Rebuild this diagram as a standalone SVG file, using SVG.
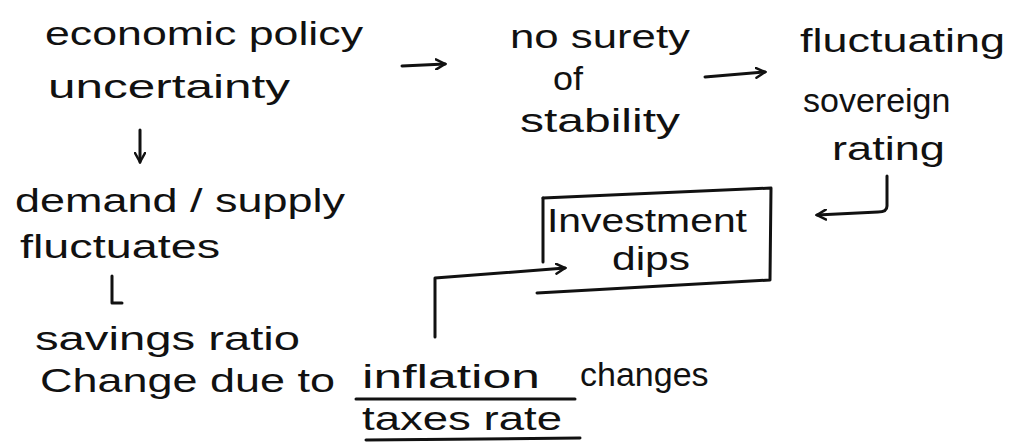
<svg xmlns="http://www.w3.org/2000/svg" width="1013" height="445" viewBox="0 0 1013 445">
<defs>
<style>
text{font-family:"Liberation Sans","DejaVu Sans",sans-serif;font-size:34px;fill:#111;}
.ln{fill:none;stroke:#111;stroke-width:3;stroke-linecap:round;stroke-linejoin:round;}
</style>
<marker id="ah" viewBox="0 0 12 12" refX="10" refY="6" markerWidth="12" markerHeight="12" markerUnits="userSpaceOnUse" orient="auto">
<path d="M1,1 L10,6 L1,11" fill="none" stroke="#111" stroke-width="2.5" stroke-linecap="round"/>
</marker>
</defs>
<rect width="1013" height="445" fill="#fff"/>
<g id="n-epu">
<text x="45" y="45" textLength="318" lengthAdjust="spacingAndGlyphs">economic policy</text>
<text x="48" y="98" textLength="242" lengthAdjust="spacingAndGlyphs">uncertainty</text>
</g>
<g id="n-surety">
<text x="510" y="48" textLength="180" lengthAdjust="spacingAndGlyphs">no surety</text>
<text x="553" y="90" textLength="30" lengthAdjust="spacingAndGlyphs">of</text>
<text x="520" y="132" textLength="160" lengthAdjust="spacingAndGlyphs">stability</text>
</g>
<g id="n-rating">
<text x="800" y="52" textLength="205" lengthAdjust="spacingAndGlyphs">fluctuating</text>
<text x="803" y="112">sovereign</text>
<text x="832" y="160" textLength="113" lengthAdjust="spacingAndGlyphs">rating</text>
</g>
<g id="n-invest">
<path class="ln" d="M543,198 L771,188 L770,280 L537,293"/>
<path class="ln" d="M543,198 L543,262"/>
<text x="547" y="232" textLength="200" lengthAdjust="spacingAndGlyphs">Investment</text>
<text x="612" y="270" textLength="78" lengthAdjust="spacingAndGlyphs">dips</text>
</g>
<g id="n-demand">
<text x="15" y="212" textLength="330" lengthAdjust="spacingAndGlyphs">demand / supply</text>
<text x="20" y="258" textLength="200" lengthAdjust="spacingAndGlyphs">fluctuates</text>
</g>
<g id="n-savings">
<text x="35" y="350" textLength="265" lengthAdjust="spacingAndGlyphs">savings ratio</text>
<text x="40" y="392" textLength="295" lengthAdjust="spacingAndGlyphs">Change due to</text>
<text x="362" y="388" textLength="178" lengthAdjust="spacingAndGlyphs">inflation</text>
<text x="580" y="386">changes</text>
<path class="ln" d="M356,399 L575,399"/>
<text x="362" y="430" textLength="200" lengthAdjust="spacingAndGlyphs">taxes rate</text>
<path class="ln" d="M366,440 L580,438"/>
</g>
<g id="connectors">
<path class="ln" d="M402,66 L445,64" marker-end="url(#ah)"/>
<path class="ln" d="M705,77 L765,72" marker-end="url(#ah)"/>
<path class="ln" d="M887,176 L887,206 Q887,212 878,212 L817,215" marker-end="url(#ah)"/>
<path class="ln" d="M140,130 L140,162" marker-end="url(#ah)"/>
<path class="ln" d="M112,276 L112,303 L122,303"/>
<path class="ln" d="M435,337 L435,278 L565,268" marker-end="url(#ah)"/>
</g>
</svg>
